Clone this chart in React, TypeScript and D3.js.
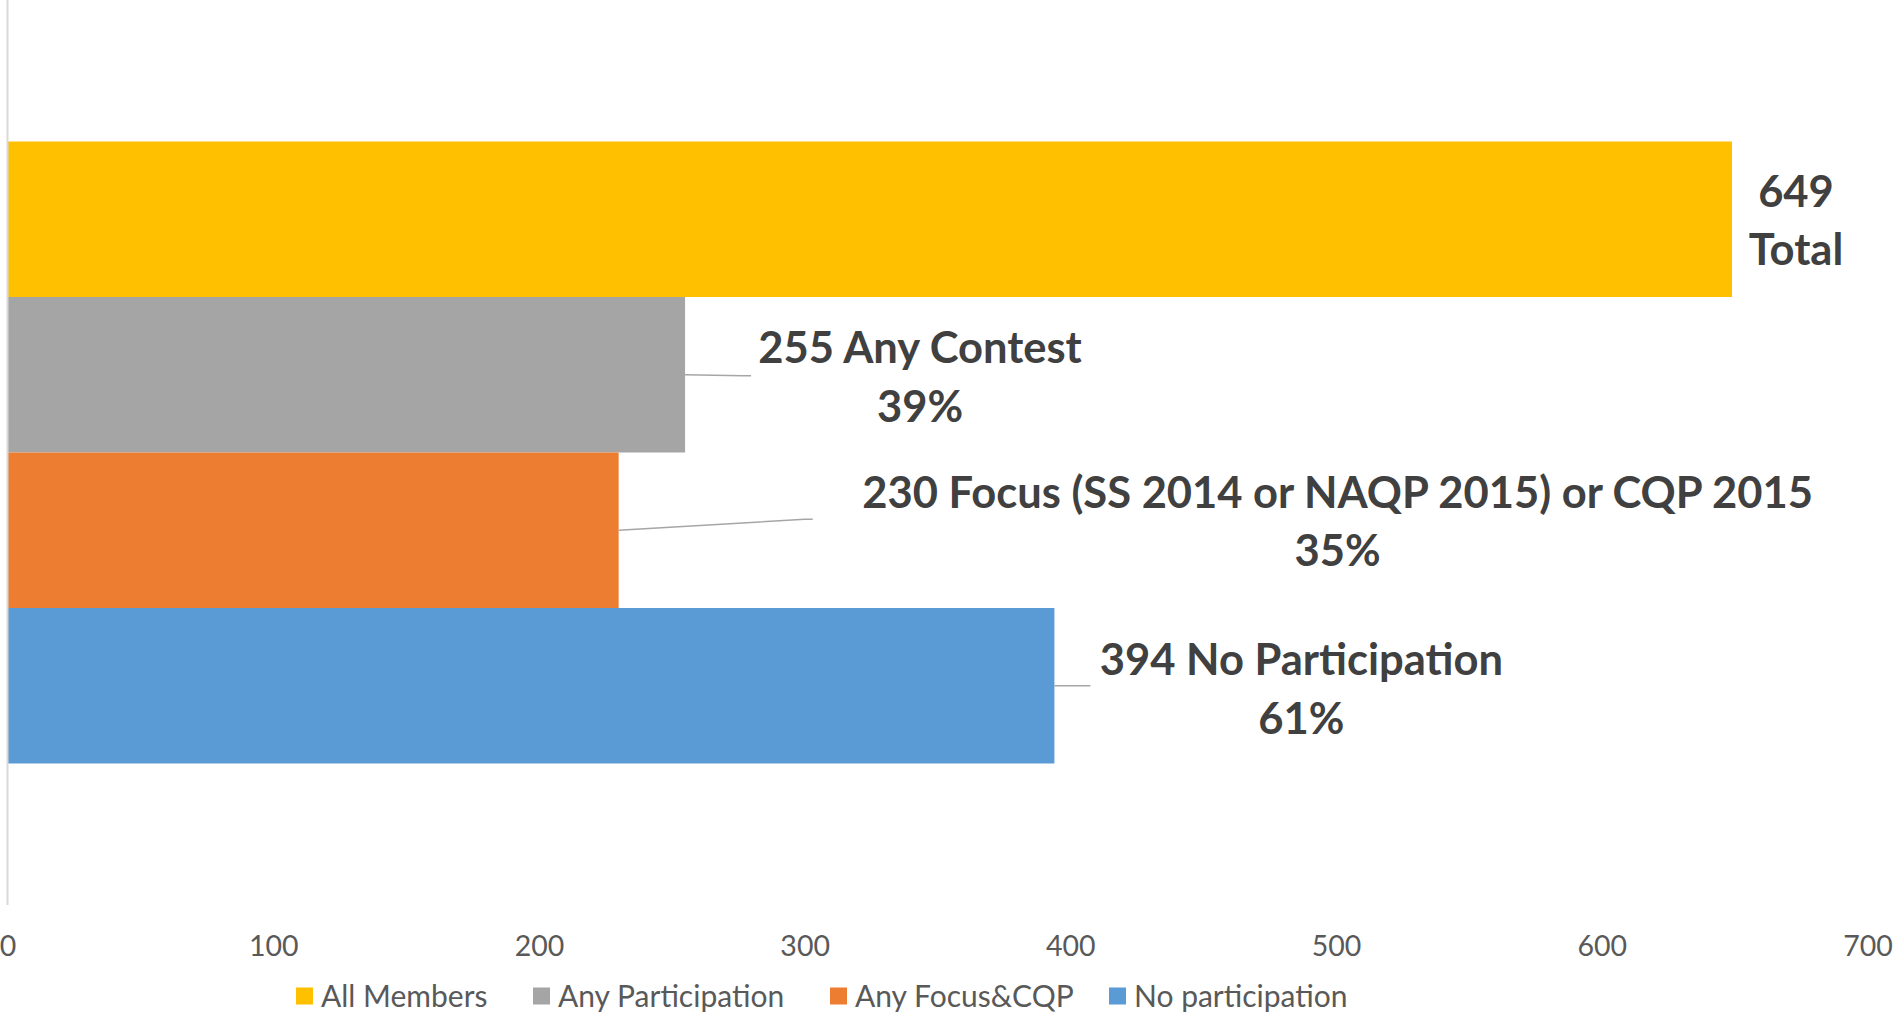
import { useEffect, useRef } from 'react';
import * as d3 from 'd3';

// series, top to bottom
const seriesNames = ['All Members', 'Any Participation', 'Any Focus&CQP', 'No participation'];
const seriesValues = [649, 255, 230, 394];
const seriesColors = ['#FFC000', '#A5A5A5', '#ED7D31', '#5B9BD5'];
const labelLines = [
  ['649', 'Total'],
  ['255 Any Contest', '39%'],
  ['230 Focus (SS 2014 or NAQP 2015) or CQP 2015', '35%'],
  ['394 No Participation', '61%'],
];
const xTicks = [0, 100, 200, 300, 400, 500, 600, 700];

// hand-placed label offsets from the bar end (like dragged Excel labels)
const labelOffsets = [
  { dx: 64, dy: 1, lx: 0, ly: 0 },
  { dx: 235, dy: 2, lx: 66, ly: 1 },
  { dx: 719, dy: -9, lx: 194, ly: -11 },
  { dx: 247, dy: 3, lx: 36, ly: 0 },
];

const W = 1895, H = 1013;
const M = { top: 0, right: 27.5, bottom: 108, left: 7.5 };
const FONT = 'Lato, "Open Sans", sans-serif';

export default function App() {
  const svgRef = useRef(null);

  useEffect(() => {
    const svg = d3.select(svgRef.current);
    svg.selectAll('*').remove();

    const plotBottom = H - M.bottom;
    const x = d3.scaleLinear().domain([0, 700]).range([M.left, W - M.right]);
    const y = d3.scaleBand().domain(seriesNames).range([M.top, plotBottom]).paddingInner(0).paddingOuter(0.91);

    const g = svg.append('g');

    // bars
    g.selectAll('rect.bar').data(seriesNames).join('rect')
      .attr('class', 'bar')
      .attr('x', x(0))
      .attr('y', d => y(d))
      .attr('width', (d, i) => x(seriesValues[i]) - x(0))
      .attr('height', y.bandwidth())
      .attr('fill', (d, i) => seriesColors[i]);

    // vertical axis line
    g.append('line')
      .attr('x1', x(0)).attr('x2', x(0))
      .attr('y1', M.top).attr('y2', plotBottom)
      .attr('stroke', '#d9d9d9').attr('stroke-width', 2);

    // bottom tick labels
    g.append('g').attr('transform', `translate(0,${plotBottom + 41})`)
      .call(d3.axisBottom(x).tickValues(xTicks).tickSize(0).tickPadding(0))
      .call(ax => {
        ax.select('.domain').remove();
        ax.selectAll('.tick text').attr('fill', '#595959').attr('font-size', 28.5)
          .attr('font-family', FONT).attr('dy', '0.35em').attr('y', 0);
      });

    // leader lines + data labels
    seriesNames.forEach((name, i) => {
      const bx = x(seriesValues[i]);
      const cy = y(name) + y.bandwidth() / 2;
      const o = labelOffsets[i];
      if (o.lx) {
        g.append('path')
          .attr('d', d3.line()([[bx, cy], [bx + o.lx - 8, cy + o.ly], [bx + o.lx, cy + o.ly]]))
          .attr('fill', 'none').attr('stroke', '#a6a6a6').attr('stroke-width', 1.5);
      }
      const lines = labelLines[i];
      const lh = 58.5;
      const t = g.append('text')
        .attr('text-anchor', 'middle')
        .attr('font-family', FONT).attr('font-weight', 700).attr('font-size', 43.5)
        .attr('fill', '#404040');
      lines.forEach((ln, k) => {
        t.append('tspan')
          .attr('x', bx + o.dx)
          .attr('y', cy + o.dy + (k - (lines.length - 1) / 2) * lh)
          .attr('dy', '0.36em')
          .text(ln);
      });
    });

    // legend
    const legendX = [296, 533, 830, 1109];
    const ly = 996;
    const lg = svg.append('g');
    seriesNames.forEach((name, i) => {
      lg.append('rect').attr('x', legendX[i]).attr('y', ly - 8.5).attr('width', 17).attr('height', 17)
        .attr('fill', seriesColors[i]);
      lg.append('text').attr('x', legendX[i] + 25).attr('y', ly).attr('dy', '0.36em')
        .attr('font-family', FONT).attr('font-size', 30).attr('fill', '#595959').text(name);
    });
  }, []);

  return (
    <svg ref={svgRef} width={W} height={H}
      style={{ position: 'absolute', left: 0, top: 0, display: 'block', background: '#fff' }} />
  );
}
